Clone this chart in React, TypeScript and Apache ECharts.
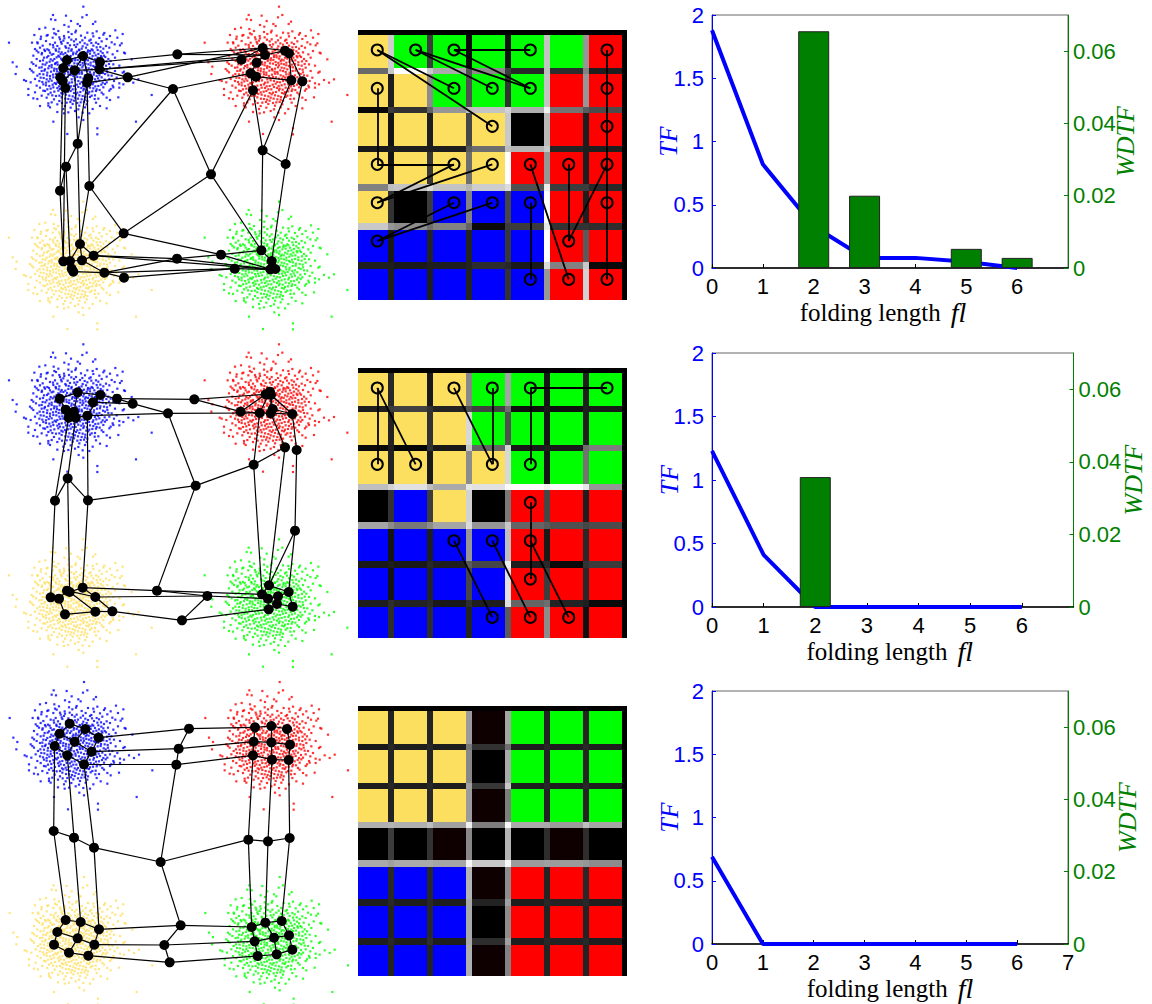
import React, { useEffect, useRef } from "react";
import * as echarts from "echarts";

// ---------- point cloud (one template, seen four times, three panels)
const cloudPoints: number[][] = [
[250,20],[159,45],[198,47],[260,45],[247,52],[153,58],[166,60],[213,63],[286,65],[279,72],[193,75],[206,80],[240,78],[233,72],[118,87],[136,83],[161,87],[346,91],[368,102],[313,99],[278,100],[226,97],[103,105],[123,110],[143,105],[163,100],[96,128],[113,130],[178,112],[193,115],
[27,128],[38,187],[50,200],[47,222],[72,240],[78,243],[85,285],[100,295],[120,318],[145,310],[150,322],[160,365],[202,402],[292,385],[292,403],[408,365],[455,285],[415,238],[400,248],[375,160],[365,130],[395,178],[358,250],[355,292],[330,300],[320,325],[268,340],[250,360],[236,352],[192,340],[172,336],[130,272],[95,212],[110,152],[100,192],[372,215],[340,262],[385,240],
[175,93],[205,96],[228,92],[262,98],[290,94],[140,107],[168,103],[192,108],[215,102],[243,107],[280,109],[310,104],[330,108],
[122,117],[158,113],[180,118],[207,112],[228,118],[255,113],[272,119],[298,114],[320,117],[352,113],
[112,127],[138,123],[165,128],[190,122],[203,129],[222,124],[240,127],[268,122],[288,128],[305,124],[335,127],
[128,137],[150,133],[172,138],[185,131],[210,136],[232,133],[248,139],[262,134],[280,137],[295,132],[318,138],[344,133],[360,136],
[105,147],[120,143],[142,148],[160,142],[178,146],[198,143],[215,148],[228,141],[245,146],[258,143],[275,148],[290,142],[310,146],[328,143],
[115,157],[135,153],[150,158],[168,152],[185,157],[205,154],[220,158],[238,151],[252,156],[270,153],[283,158],[302,154],[322,157],[352,153],[372,158],
[100,167],[125,163],[145,168],[160,162],[175,167],[190,163],[212,168],[228,161],[242,166],[260,163],[278,168],[295,162],[312,167],[338,163],
[110,177],[132,173],[152,178],[170,172],[183,176],[198,173],[218,178],[235,171],[250,176],[268,173],[285,178],[305,172],[325,177],[345,173],
[95,187],[120,183],[140,188],[158,182],[172,187],[190,184],[208,188],[225,181],[240,186],[255,183],[272,188],[290,182],[308,187],[332,183],
[108,197],[128,193],[148,198],[165,192],[180,197],[200,193],[215,198],[232,191],[250,196],[265,193],[280,198],[298,192],[318,197],[340,193],[358,197],
[90,207],[118,203],[135,208],[155,202],[170,207],[188,203],[205,208],[222,201],[238,206],[258,203],[275,208],[292,202],[312,207],[330,203],
[100,217],[125,213],[142,218],[162,212],[178,217],[195,213],[212,218],[230,211],[245,216],[262,213],[282,218],[300,212],[322,217],[345,213],[368,218],
[112,227],[130,223],[150,228],[168,222],[185,227],[205,223],[220,228],[238,221],[255,226],[272,223],[290,228],[315,222],[335,227],
[105,237],[122,233],[140,238],[160,232],[178,237],[195,233],[215,238],[232,231],[250,236],[268,233],[285,238],[305,232],[328,237],[350,233],
[92,247],[118,243],[138,248],[155,242],[172,247],[190,243],[208,248],[225,241],[245,246],[262,243],[280,248],[298,242],[320,247],[342,243],
[110,257],[130,253],[148,258],[168,252],[185,257],[205,253],[222,258],[240,251],[258,256],[278,253],[295,258],[315,252],[338,257],[370,253],
[85,267],[120,263],[142,268],[160,262],[180,267],[198,263],[218,268],[235,261],[252,266],[270,263],[290,268],[310,262],[332,267],[358,263],
[105,277],[135,273],[152,278],[175,272],[195,277],[212,273],[232,278],[250,271],[268,276],[288,273],[305,278],[328,272],
[125,287],[145,283],[168,288],[188,282],[208,287],[228,283],[248,288],[265,281],[285,286],[310,283],
[112,297],[140,293],[162,298],[185,292],[205,297],[225,293],[245,298],[270,291],[295,296],[320,293],
[155,307],[178,303],[200,308],[222,302],[242,307],[262,303],[288,308],
[145,317],[172,313],[195,318],[218,312],[238,317],[260,313],[300,318],
[190,327],[212,323],[235,328],[255,322],[278,327],[205,337],[225,333],[248,338],
// denser middle of the cloud
[183,126],[214,119],[247,121],[274,129],[159,135],[196,139],[223,135],[254,130],[301,141],[133,149],[167,148],[206,145],[237,149],[264,151],[293,150],
[147,151],[176,155],[196,159],[214,152],[231,155],[247,159],[263,156],[278,151],[308,159],[126,159],[155,164],[182,162],[201,166],[219,163],[235,166],[252,169],[270,161],[287,166],[303,168],
[141,172],[163,177],[178,170],[192,178],[208,173],[226,175],[243,172],[258,179],[275,176],[293,173],[316,171],[129,181],[149,185],[167,189],[186,180],[199,186],[216,183],[233,180],[248,189],[264,181],[281,185],[299,181],[319,184],
[136,194],[155,195],[173,194],[191,191],[207,196],[223,190],[241,195],[257,191],[272,196],[289,194],[308,195],[327,192],[125,202],[145,205],[163,206],[179,203],[196,206],[214,204],[229,207],[247,202],[266,205],[284,201],[301,206],[321,209],
[133,212],[153,215],[171,214],[187,211],[204,216],[221,212],[237,215],[254,211],[270,216],[291,213],[309,219],[119,222],[141,226],[159,224],[176,226],[194,221],[212,225],[229,224],[246,221],[263,229],[281,224],[298,226],[325,226],
[131,234],[150,236],[169,233],[187,236],[203,231],[224,235],[241,232],[259,236],[276,231],[294,235],[314,239],[127,246],[146,244],[164,249],[181,244],[199,241],[216,247],[235,243],[253,247],[271,241],[289,245],[308,248],
[138,256],[158,254],[177,259],[196,255],[213,259],[231,254],[249,258],[267,253],[286,259],[304,254],[152,266],[172,264],[190,269],[208,264],[227,268],[244,264],[261,269],[280,265],[299,270],[163,275],[184,279],[204,275],[222,279],[241,276],[259,279],[277,274],
[157,286],[178,287],[198,284],[218,289],[238,286],[256,291],[275,287],[196,296],[214,299],[234,296],[255,299],[284,297],[186,309],[211,306],[232,309],[252,306],
];
const clusterNames = ["blue", "red", "yellow", "green"];
const clusterColors = ["#0000ff", "#ff0000", "#ffdf60", "#00ff00"];
const clusterShifts = [[0, 0], [587, 0], [0, 585], [587, 585]];
const panelShifts = [[0, 0], [0, -7], [2, -14]];

// ---------- neuron positions on the data map
const nodes1: number[][] = [
[201,180],[249,168],[300,186],[190,204],[224,211],[298,208],[181,232],[188,243],[196,264],[265,235],[261,248],
[383,232],[532,163],[519,267],
[788,144],[795,165],[855,152],[867,160],[724,179],[770,188],[752,220],[768,230],[874,241],[907,244],[759,271],
[788,451],[857,492],[633,523],
[233,431],[198,500],[180,572],[268,558],[371,700],
[240,732],[281,767],[190,784],[210,783],[246,781],[215,806],[220,815],[313,818],[372,833],
[531,776],[663,764],[704,806],
[784,751],[815,783],[811,808],[826,807],
];
const edges1: number[][] = [
[2,12],[12,14],[12,15],[5,18],[18,14],[5,11],[11,13],[13,20],[11,14],[10,11],[5,15],
[0,1],[1,2],[0,3],[3,4],[4,5],[1,4],[1,9],[2,5],[3,6],[6,7],[7,8],[4,7],[9,10],
[8,35],[7,30],[30,35],[30,29],[29,28],[28,10],[29,36],[4,28],[28,33],[10,31],[31,33],[31,13],[31,32],[32,27],[32,34],[32,43],[13,27],[27,24],[27,45],
[24,25],[25,22],[25,26],[26,23],[25,45],[26,46],[20,24],[21,22],[19,20],[20,21],[15,16],[14,15],[15,19],[16,17],[17,22],[17,23],[14,16],
[34,42],[42,43],[43,45],[43,47],[42,47],[40,42],[40,44],[41,44],[41,40],[44,47],[45,46],[46,47],[47,48],[34,47],
[33,34],[33,37],[34,37],[35,36],[36,37],[36,38],[38,39],[35,38],[39,40],[37,40],[33,36],
];
const nodes2: number[][] = [
[179,176],[233,157],[301,165],[279,187],[351,176],[398,191],[197,209],[222,215],[206,233],[227,233],[262,227],
[504,220],[583,178],
[797,163],[810,155],[722,215],[779,219],[818,207],[812,220],[877,222],[855,322],[890,330],[761,374],
[587,437],[203,415],[165,482],[264,481],[885,572],
[152,772],[177,776],[201,752],[209,756],[248,743],[286,771],[195,823],[286,815],[337,814],
[471,752],[622,768],[546,841],
[807,736],[786,763],[804,776],[834,769],[866,756],[831,792],[806,808],[878,800],[813,165],
];
const edges2: number[][] = [
[0,1],[1,2],[2,4],[4,5],[5,11],[4,12],[12,13],[12,15],[2,3],[3,5],[1,7],[0,6],[6,8],[6,7],[7,9],[8,9],[9,10],[10,2],[10,11],[11,16],[15,16],[11,23],[23,26],[23,22],[23,37],[22,20],[22,16],[22,41],[20,18],[20,40],[21,19],[21,27],[27,44],[27,40],[16,14],[18,17],[17,14],[16,18],[18,19],[17,19],[13,14],[14,48],[48,19],[48,18],[13,15],
[8,25],[9,24],[24,25],[24,26],[10,26],[25,28],[24,31],[26,32],[28,29],[29,30],[30,31],[31,32],[32,33],[29,34],[34,35],[35,36],[31,35],[33,36],[30,33],[32,37],[33,38],[36,39],[37,38],[37,41],[38,39],[38,42],[39,46],[40,41],[41,42],[42,43],[43,44],[40,44],[42,46],[46,45],[45,47],[44,47],[43,45],
];
const nodes3: number[][] = [
[209,131],[256,147],[296,173],[567,146],[765,142],[814,138],[861,147],
[179,161],[224,185],[275,215],[536,206],[761,185],[814,187],[870,194],
[164,198],[202,226],[252,253],[529,254],[759,226],[816,239],[866,240],
[161,453],[222,473],[282,503],[482,546],[745,479],[804,484],[869,474],
[197,720],[242,726],[297,748],[542,736],[755,741],[796,728],[845,723],
[172,756],[233,775],[283,794],[493,795],[764,784],[822,773],[867,766],
[162,794],[207,818],[265,827],[509,847],[773,828],[830,823],[877,809],
];
const latticeSide = 7;

// ---------- U-matrix cells: Y yellow, G green, R red, B blue, K black, k near-black
const cells1 = ["YGGGGGR", "YYGGGRR", "YYYYKRR", "YYYYRRR", "YKBBBRR", "BBBBBRR", "BBBBBRR"];
const cells2 = ["YYYGGGG", "YYYGGGG", "YYYYGGG", "KBYKRRR", "BBBBRRR", "BBBBRRR", "BBBBRRR"];
const cells3 = ["YYYkGGG", "YYYKGGG", "YYYkGGG", "KKkKKkK", "BBBkRRR", "BBBKRRR", "BBBkRRR"];
const cellColors: Record<string, string> = { Y: "#fddf60", G: "#00ff00", R: "#ff0000", B: "#0000ff", K: "#000000", k: "#0e0000" };

const vGaps1 = [
[205,60,8,16,195,150],[30,140,80,50,195,150],[20,30,70,200,185,30],[20,55,110,255,150,30],[50,60,130,70,255,30],[25,35,35,55,255,90],[30,30,35,50,150,210],
];
const hGaps1 = [
[105,255,170,140,40,45,30],[8,50,150,195,175,115,75],[25,30,30,110,180,35,30],[130,195,195,205,80,60,40],[200,140,130,10,60,50,45],[30,25,30,45,25,130,10],
];
const corners1 = [
[200,200,80,60,190,130],[60,100,190,210,240,90],[30,30,90,190,200,30],[190,220,180,220,235,60],[150,110,100,60,230,50],[30,30,35,40,220,200],
];
const vGaps2 = [
[40,25,135,165,20,30],[35,50,215,80,20,30],[35,25,140,215,20,115],[50,60,210,120,70,30],[20,30,150,190,25,40],[20,35,70,225,60,40],[45,45,35,90,140,15],
];
const hGaps2 = [
[30,65,35,65,15,15,25],[10,5,25,100,25,25,125],[190,225,170,225,250,250,150],[165,120,165,150,100,80,75],[25,25,30,70,30,10,60],[30,35,25,30,100,35,10],
];
const corners2 = [
[60,50,80,110,25,30],[30,50,200,210,30,110],[210,190,230,250,240,230],[140,140,220,200,90,70],[30,40,90,240,40,50],[45,40,45,225,110,30],
];
const vGaps3 = [
[35,35,155,165,35,35],[35,35,135,170,35,35],[35,40,155,125,35,35],[60,50,135,180,45,45],[40,40,180,140,35,40],[35,40,170,140,35,35],[35,35,175,130,35,35],
];
const hGaps3 = [
[25,30,30,50,30,30,30],[30,30,30,55,30,30,30],[175,175,160,125,170,155,165],[170,170,165,200,155,155,140],[30,30,30,35,30,35,30],[30,30,30,45,30,35,30],
];
const corners3 = [
[40,40,120,110,40,40],[40,40,160,200,40,40],[180,190,240,250,170,190],[160,170,245,250,160,150],[40,40,170,160,40,40],[40,45,170,160,40,40],
];

// ---------- neurons marked on the map: [col,row] pairs and lines between them
const circles1 = [
[0,0],[1,0],[2,0],[4,0],[6,0],[0,1],[2,1],[3,1],[4,1],[6,1],[3,2],[6,2],[0,3],[2,3],[3,3],[4,3],[5,3],[6,3],[0,4],[2,4],[3,4],[4,4],[6,4],[0,5],[5,5],[4,6],[5,6],[6,6],
];
const links1 = [
[[0,0],[2,1]],[[0,0],[3,2]],[[1,0],[3,1]],[[1,0],[4,1]],[[2,0],[4,0]],[[2,0],[4,1]],[[0,1],[0,3]],[[0,3],[2,3]],[[0,4],[2,3]],[[0,4],[3,3]],[[0,5],[2,4]],[[0,5],[3,4]],[[4,3],[5,6]],[[4,4],[4,6]],[[5,3],[5,5]],[[5,5],[6,3]],[[6,0],[6,6]],
];
const circles2 = [
[0,0],[2,0],[3,0],[4,0],[6,0],[0,2],[1,2],[3,2],[4,2],[4,3],[2,4],[3,4],[4,4],[4,5],[3,6],[4,6],[5,6],
];
const links2 = [
[[0,0],[0,2]],[[0,0],[1,2]],[[2,0],[3,2]],[[3,0],[3,2]],[[4,0],[6,0]],[[4,0],[4,2]],[[4,3],[4,5]],[[2,4],[3,6]],[[3,4],[4,6]],[[4,4],[5,6]],
];
const circleColUnits = [3.35, 9.25, 15.15, 21.05, 26.9, 32.8, 38.7];
const circleRowUnits = [2.3, 8.2, 14.05, 19.9, 25.8, 31.7, 37.6];

// ---------- folding curves
const foldingLengths = [0, 1, 2, 3, 4, 5, 6];
const tf1 = [1.88, 0.82, 0.33, 0.08, 0.08, 0.05, 0];
const wdtf1 = [0, 0, 0.0655, 0.02, 0, 0.0053, 0.0028];
const tf2 = [1.23, 0.41, 0, 0, 0, 0, 0];
const wdtf2 = [0, 0, 0.0358, 0, 0, 0, 0];
const tf3 = [0.69, 0, 0, 0, 0, 0, 0];
const wdtf3 = [0, 0, 0, 0, 0, 0, 0];
const tfTicks = [0, 0.5, 1, 1.5, 2];
const wdtfTicks = [0, 0.02, 0.04, 0.06];

const SANS = "Liberation Sans";
const SERIF = "Liberation Serif";
const GREEN = "#008000";
const BLUE = "#0000ff";

function hidden(gridIndex: number, min: number, max: number, inverse = false) {
  return { type: "value", gridIndex, min, max, inverse, show: false, splitLine: { show: false } };
}

function heatRects(cells: string[], v: number[][], h: number[][], c: number[][]) {
  const rects: number[][] = [];
  const colors: string[] = [];
  const gray = (g: number) => `rgb(${g},${g},${g})`;
  cells.forEach((line, r) => line.split("").forEach((ch, col) => {
    rects.push([6 * col, 6 * col + 5, 6 * r, 6 * r + 5]);
    colors.push(cellColors[ch]);
  }));
  v.forEach((line, r) => line.forEach((g, i) => {
    rects.push([6 * i + 5, 6 * i + 6, 6 * r, 6 * r + 5]);
    colors.push(gray(g));
  }));
  h.forEach((line, j) => line.forEach((g, col) => {
    rects.push([6 * col, 6 * col + 5, 6 * j + 5, 6 * j + 6]);
    colors.push(gray(g));
  }));
  c.forEach((line, j) => line.forEach((g, i) => {
    rects.push([6 * i + 5, 6 * i + 6, 6 * j + 5, 6 * j + 6]);
    colors.push(gray(g));
  }));
  return { rects, colors };
}

function buildOption() {
  const grid: any[] = [];
  const xAxis: any[] = [];
  const yAxis: any[] = [];
  const series: any[] = [];

  const addAxes = (x: any, y: any) => {
    xAxis.push(x);
    yAxis.push(y);
    return [xAxis.length - 1, yAxis.length - 1];
  };

  // left column: data map with clusters and the folded lattice
  const mapTops = [0, 340, 680];
  const latticeEdges: number[][] = [];
  for (let r = 0; r < latticeSide; r++) for (let c = 0; c < latticeSide; c++) {
    if (c < latticeSide - 1) latticeEdges.push([r * latticeSide + c, r * latticeSide + c + 1]);
    if (r < latticeSide - 1) latticeEdges.push([r * latticeSide + c, (r + 1) * latticeSide + c]);
  }
  const mapNodes = [nodes1, nodes2, nodes3];
  const mapEdges = [edges1, edges2, latticeEdges];
  mapTops.forEach((top, p) => {
    const g = grid.length;
    grid.push({ left: 0, top, width: 340, height: 320, outerBoundsMode: "none" });
    const [xi, yi] = addAxes(hidden(g, 0, 1020), hidden(g, 0, 960, true));
    clusterNames.forEach((name, k) => {
      series.push({
        type: "scatter", name: `${name} ${p + 1}`, xAxisIndex: xi, yAxisIndex: yi, clip: false, silent: true, z: 1,
        symbol: "rect", symbolSize: 2.2, progressive: 0, large: false,
        itemStyle: { color: clusterColors[k] },
        data: cloudPoints.map((q) => [q[0] + clusterShifts[k][0] + panelShifts[p][0], q[1] + clusterShifts[k][1] + panelShifts[p][1]]),
      });
    });
    series.push({
      type: "graph", layout: "none", coordinateSystem: "cartesian2d", xAxisIndex: xi, yAxisIndex: yi, silent: true, z: 2,
      symbol: "circle", symbolSize: 10, itemStyle: { color: "#000" },
      lineStyle: { color: "#000", width: 1.2, opacity: 1, curveness: 0 }, label: { show: false },
      data: mapNodes[p].map((n) => [n[0], n[1]]),
      links: mapEdges[p].map((e) => ({ source: e[0], target: e[1] })),
    });
  });

  // middle column: U-matrix
  const heatTops = [30, 368, 706];
  const heatSets = [
    heatRects(cells1, vGaps1, hGaps1, corners1),
    heatRects(cells2, vGaps2, hGaps2, corners2),
    heatRects(cells3, vGaps3, hGaps3, corners3),
  ];
  const overlays = [[circles1, links1], [circles2, links2], [[], []]] as any[];
  heatTops.forEach((top, p) => {
    const g = grid.length;
    grid.push({ left: 358, top, width: 269, height: 270, show: true, backgroundColor: "#000", borderWidth: 0, outerBoundsMode: "none" });
    const [xi, yi] = addAxes(hidden(g, 0.385, 41.77), hidden(g, -0.77, 40.77, true));
    const set = heatSets[p];
    series.push({
      type: "custom", xAxisIndex: xi, yAxisIndex: yi, silent: true, z: 1, clip: true,
      encode: { x: [0, 1], y: [2, 3] },
      data: set.rects,
      renderItem: (params: any, api: any) => {
        const a = api.coord([api.value(0), api.value(2)]);
        const b = api.coord([api.value(1), api.value(3)]);
        const x = Math.round(a[0]);
        const y = Math.round(a[1]);
        const rect = echarts.graphic.clipRectByRect(
          { x, y, width: Math.round(b[0]) - x, height: Math.round(b[1]) - y },
          params.coordSys,
        );
        return rect ? { type: "rect", shape: rect, style: { fill: set.colors[params.dataIndex] } } : null;
      },
    });
    const [circles, links] = overlays[p];
    if (circles.length) {
      const key = (c: number[]) => circles.findIndex((q: number[]) => q[0] === c[0] && q[1] === c[1]);
      series.push({
        type: "graph", layout: "none", coordinateSystem: "cartesian2d", xAxisIndex: xi, yAxisIndex: yi, silent: true, z: 3,
        symbol: "circle", symbolSize: 11, itemStyle: { color: "rgba(0,0,0,0)", borderColor: "#000", borderWidth: 2, opacity: 1 },
        lineStyle: { color: "#000", width: 1.8, opacity: 1 }, label: { show: false },
        data: circles.map((c: number[]) => [circleColUnits[c[0]], circleRowUnits[c[1]]]),
        links: links.map((l: number[][]) => ({ source: key(l[0]), target: key(l[1]) })),
      });
    }
  });

  // right column: transition folding curves
  const boxes = [
    { left: 712, right: 1068, top: 15, bottom: 268, tf: tf1, wdtf: wdtf1, labels: [0, 1, 2, 3, 4, 5, 6], nudge: 14, tfGap: 31, wGap: 44 },
    { left: 712, right: 1073.5, top: 353, bottom: 607, tf: tf2, wdtf: wdtf2, labels: [0, 1, 2, 3, 4, 5, 6], nudge: 6, tfGap: 30, wGap: 47 },
    { left: 712, right: 1068, top: 691, bottom: 944, tf: tf3, wdtf: wdtf3, labels: [0, 1, 2, 3, 4, 5, 6, 7], nudge: 0, tfGap: 30, wGap: 46 },
  ];
  boxes.forEach((b) => {
    const g = grid.length;
    grid.push({
      left: b.left, top: b.top, width: b.right - b.left, height: b.bottom - b.top, outerBoundsMode: "none",
      show: true, backgroundColor: "transparent", borderColor: "#666", borderWidth: 1,
    });
    xAxis.push({
      type: "value", gridIndex: g, min: 0, max: 7, interval: 1, splitLine: { show: false },
      axisLine: { show: true, onZero: false, lineStyle: { color: "#000", width: 1.5 } },
      axisTick: { show: true, inside: true, length: 4, customValues: foldingLengths, lineStyle: { color: "#000" } },
      axisLabel: { customValues: b.labels, margin: 7, color: "#000", fontFamily: SANS, fontSize: 22, showMinLabel: true, showMaxLabel: true },
      name: "{a|folding length}   {b|fl}",
      nameLocation: "middle", nameGap: 30, nameMoveOverlap: false,
      nameTextStyle: {
        padding: [0, b.nudge, 0, 0],
        rich: {
          a: { fontFamily: SERIF, fontSize: 25, color: "#000" },
          b: { fontFamily: SERIF, fontSize: 28, fontStyle: "italic", color: "#000" },
        },
      },
    });
    const xi = xAxis.length - 1;
    yAxis.push({
      type: "value", gridIndex: g, position: "left", min: 0, max: 2, interval: 0.5, splitLine: { show: false },
      axisLine: { show: true, onZero: false, lineStyle: { color: BLUE, width: 1 } },
      axisTick: { show: true, inside: true, length: 4, customValues: tfTicks, lineStyle: { color: BLUE } },
      axisLabel: { customValues: tfTicks, margin: 8, color: BLUE, fontFamily: SANS, fontSize: 22 },
      name: "TF", nameLocation: "middle", nameGap: b.tfGap, nameRotate: 90, nameMoveOverlap: false,
      nameTextStyle: { color: BLUE, fontFamily: SERIF, fontStyle: "italic", fontSize: 26 },
    });
    const yLeft = yAxis.length - 1;
    yAxis.push({
      type: "value", gridIndex: g, position: "right", min: 0, max: 0.07, splitLine: { show: false },
      axisLine: { show: true, onZero: false, lineStyle: { color: GREEN, width: 1 } },
      axisTick: { show: true, inside: true, length: 4, customValues: wdtfTicks, lineStyle: { color: GREEN } },
      axisLabel: { customValues: wdtfTicks, margin: 5, color: GREEN, fontFamily: SANS, fontSize: 22 },
      name: "WDTF", nameLocation: "middle", nameGap: b.wGap, nameRotate: 90, nameMoveOverlap: false,
      nameTextStyle: { color: GREEN, fontFamily: SERIF, fontStyle: "italic", fontSize: 26 },
    });
    const yRight = yAxis.length - 1;
    series.push({
      type: "line", name: "TF", xAxisIndex: xi, yAxisIndex: yLeft, z: 2, symbol: "none", clip: false,
      lineStyle: { color: BLUE, width: 4 }, itemStyle: { color: BLUE },
      data: foldingLengths.map((f, i) => [f, b.tf[i]]),
    });
    series.push({
      type: "bar", name: "WDTF", xAxisIndex: xi, yAxisIndex: yRight, z: 3, barWidth: 31,
      itemStyle: { color: GREEN, borderColor: "#222", borderWidth: 1 },
      data: foldingLengths.map((f, i) => [f, b.wdtf[i]]).filter((d) => d[1] > 0),
    });
  });

  return { animation: false, backgroundColor: "#fff", grid, xAxis, yAxis, series };
}

export default function App() {
  const ref = useRef<HTMLDivElement>(null);
  useEffect(() => {
    document.body.style.margin = "0";
    const chart = echarts.init(ref.current!, undefined, { renderer: "svg" });
    chart.setOption(buildOption() as any);
    return () => chart.dispose();
  }, []);
  return <div ref={ref} style={{ width: 1152, height: 1004 }} />;
}
